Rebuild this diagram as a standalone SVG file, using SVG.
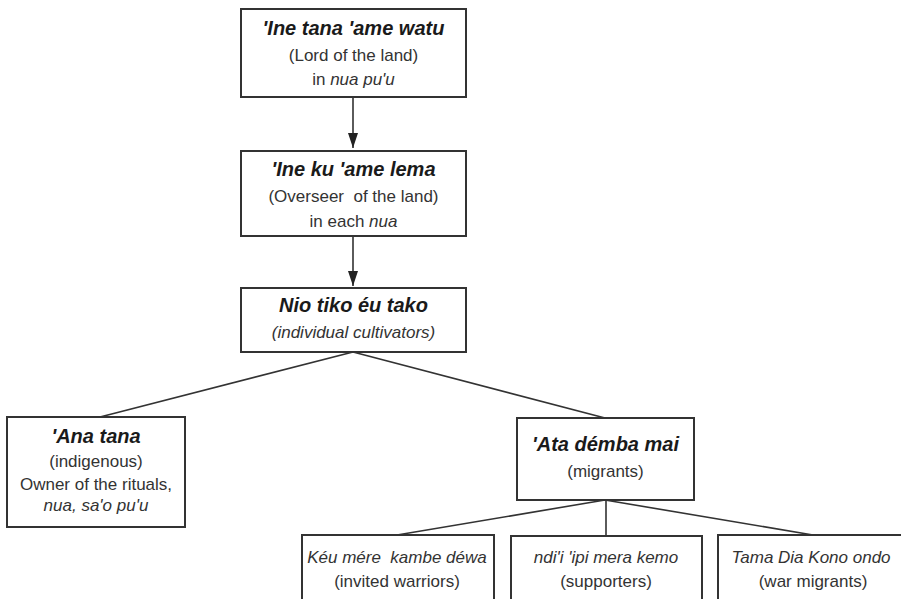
<svg xmlns="http://www.w3.org/2000/svg" width="901" height="599" viewBox="0 0 901 599">
<style>
.box{fill:#fff;stroke:#333;stroke-width:2}
.t{font-family:"Liberation Sans",Arial,sans-serif;font-size:17px;fill:#333;text-anchor:middle}
.h{font-weight:bold;font-style:italic;font-size:20px;fill:#1a1a1a}
.i{font-style:italic}
.ln{stroke:#333;stroke-width:1.6;fill:none}
</style>
<defs>
<marker id="ah" viewBox="0 0 15 10" refX="15" refY="5" markerWidth="15" markerHeight="10" markerUnits="userSpaceOnUse" orient="auto">
<path d="M0,0 L15,5 L0,10 z" fill="#222"/>
</marker>
</defs>
<rect width="901" height="599" fill="#fff"/>
<g id="connectors">
<line class="ln" x1="353" y1="98" x2="353" y2="148" marker-end="url(#ah)" stroke-width="2.2"/>
<line class="ln" x1="353" y1="237" x2="353" y2="286" marker-end="url(#ah)" stroke-width="2.2"/>
<line class="ln" x1="353" y1="352" x2="100" y2="417"/>
<line class="ln" x1="353" y1="352" x2="605" y2="418"/>
<line class="ln" x1="605" y1="500" x2="397" y2="535"/>
<line class="ln" x1="606" y1="500" x2="606" y2="536"/>
<line class="ln" x1="605" y1="500" x2="813" y2="535"/>
</g>
<g id="n1">
<rect class="box" x="241" y="9" width="225" height="88"/>
<text class="t h" x="353.5" y="35">'Ine tana 'ame watu</text>
<text class="t" x="353.5" y="61">(Lord of the land)</text>
<text class="t" x="353.5" y="85">in <tspan class="i">nua pu'u</tspan></text>
</g>
<g id="n2">
<rect class="box" x="241" y="151" width="225" height="85"/>
<text class="t h" x="353.5" y="176">'Ine ku 'ame lema</text>
<text class="t" x="353.5" y="202" xml:space="preserve">(Overseer  of the land)</text>
<text class="t" x="353.5" y="227">in each <tspan class="i">nua</tspan></text>
</g>
<g id="n3">
<rect class="box" x="241" y="288" width="225" height="64"/>
<text class="t h" x="353.5" y="312">Nio tiko éu tako</text>
<text class="t i" x="353.5" y="338">(individual cultivators)</text>
</g>
<g id="n4">
<rect class="box" x="7" y="417" width="178" height="110"/>
<text class="t h" x="96" y="443">'Ana tana</text>
<text class="t" x="96" y="467">(indigenous)</text>
<text class="t" x="96" y="490">Owner of the rituals,</text>
<text class="t i" x="96" y="511">nua, sa'o pu'u</text>
</g>
<g id="n5">
<rect class="box" x="517" y="418" width="177" height="82"/>
<text class="t h" x="605.5" y="451">'Ata démba mai</text>
<text class="t" x="605.5" y="477">(migrants)</text>
</g>
<g id="n6">
<rect class="box" x="302" y="535" width="192" height="80" stroke-width="1.5"/>
<text class="t i" x="397" y="563" xml:space="preserve">Kéu mére  kambe déwa</text>
<text class="t" x="397" y="587">(invited warriors)</text>
</g>
<g id="n7">
<rect class="box" x="511" y="536" width="191" height="80" stroke-width="1.5"/>
<text class="t i" x="606" y="563">ndi'i 'ipi mera kemo</text>
<text class="t" x="606" y="587">(supporters)</text>
</g>
<g id="n8">
<rect class="box" x="718" y="535" width="200" height="80" stroke-width="1.5"/>
<text class="t i" x="811" y="563">Tama Dia Kono ondo</text>
<text class="t" x="813" y="587">(war migrants)</text>
</g>
</svg>
